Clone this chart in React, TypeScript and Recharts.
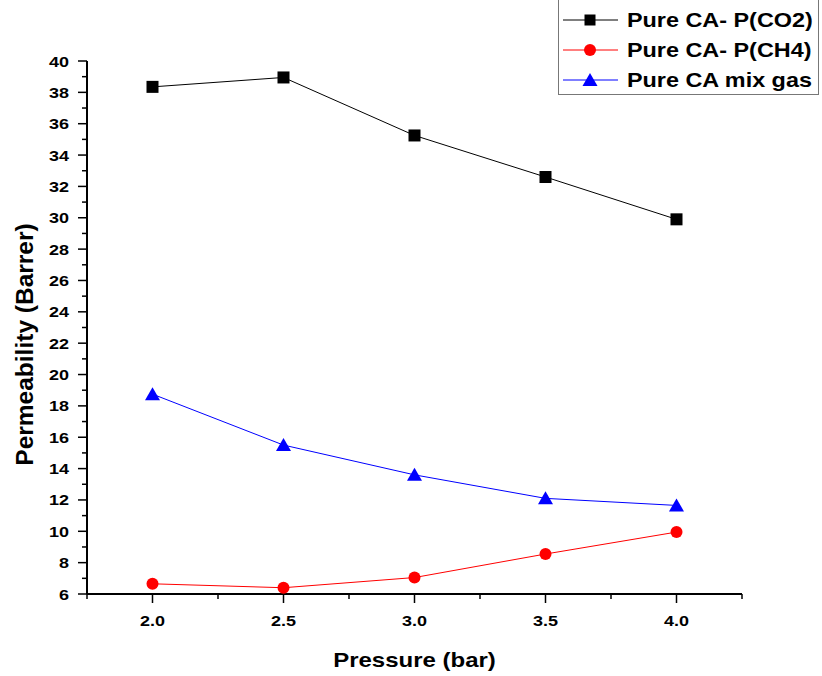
import React from 'react';
import { LineChart, Line, XAxis, YAxis, Legend } from 'recharts';

// pressure in bar
const pressure = [2.0, 2.5, 3.0, 3.5, 4.0];
// permeability in Barrer
const co2 = [38.35, 38.95, 35.25, 32.6, 29.9];
const ch4 = [6.65, 6.4, 7.05, 8.55, 9.95];
const mixGas = [18.75, 15.5, 13.6, 12.1, 11.65];

const seriesNames = ['Pure CA- P(CO2)', 'Pure CA- P(CH4)', 'Pure CA mix gas'];
const xTicks = [1.75, 2.0, 2.25, 2.5, 2.75, 3.0, 3.25, 3.5, 3.75, 4.0, 4.25];
const yTicks = Array.from({ length: 35 }, (_, i) => 6 + i);

const data = pressure.map((p, i) => ({
  p,
  co2: co2[i],
  ch4: ch4[i],
  mix: mixGas[i],
}));

const FONT = '"Liberation Sans", Arial, sans-serif';
const STRETCH = 1.2; // horizontal text in the original is a bit wide
const TICK_SIZE = 9;
const TICK_MARGIN = 4;

// bold text, widened horizontally
const WideText = ({ x, y, size, anchor = 'start', children }: any) => (
  <g transform={`translate(${x}, ${y}) scale(${STRETCH}, 1)`}>
    <text x={0} y={0} textAnchor={anchor} fontFamily={FONT} fontWeight="bold" fontSize={size} fill="#000">
      {children}
    </text>
  </g>
);

const Square = ({ cx, cy, size = 12 }: any) => (
  <rect x={cx - size / 2} y={cy - size / 2} width={size} height={size} fill="#000" />
);
const Circle = ({ cx, cy }: any) => <circle cx={cx} cy={cy} r={6} fill="#ff0000" />;
const Triangle = ({ cx, cy }: any) => (
  <polygon points={`${cx},${cy - 7} ${cx + 7.5},${cy + 6} ${cx - 7.5},${cy + 6}`} fill="#0000ff" />
);

const YTick = (props: any) => {
  const { x, y, payload } = props;
  const axisX = x + TICK_SIZE + TICK_MARGIN;
  const major = payload.value % 2 === 0;
  const len = major ? 9 : 5;
  return (
    <g>
      <line x1={axisX - len} x2={axisX} y1={y} y2={y} stroke="#000" strokeWidth={1.5} />
      {major && (
        <WideText x={axisX - 18} y={y + 5.5} size={15} anchor="end">
          {payload.value}
        </WideText>
      )}
    </g>
  );
};

const XTick = (props: any) => {
  const { x, y, payload } = props;
  const axisY = y - TICK_SIZE - TICK_MARGIN;
  const major = Math.abs(payload.value * 2 - Math.round(payload.value * 2)) < 1e-6;
  const len = major ? 9 : 5;
  return (
    <g>
      <line x1={x} x2={x} y1={axisY} y2={axisY + len} stroke="#000" strokeWidth={1.5} />
      {major && (
        <WideText x={x} y={axisY + 32} size={15} anchor="middle">
          {payload.value.toFixed(1)}
        </WideText>
      )}
    </g>
  );
};

const renderLegend = () => {
  const rows = [
    { name: seriesNames[0], color: '#000', marker: <Square cx={32} cy={0} size={11} /> },
    { name: seriesNames[1], color: '#ff0000', marker: <Circle cx={32} cy={0} /> },
    { name: seriesNames[2], color: '#0000ff', marker: <Triangle cx={32} cy={0} /> },
  ];
  return (
    <svg width={262} height={96} style={{ display: 'block' }}>
      <rect x={0.5} y={-1} width={260} height={95.5} fill="#fff" stroke="#777" strokeWidth={1} />
      {rows.map((r, i) => (
        <g key={r.name} transform={`translate(0, ${20 + i * 30})`}>
          <line x1={5} x2={60} y1={0} y2={0} stroke={r.color} strokeWidth={1} />
          {r.marker}
          <WideText x={69} y={7} size={19.5}>
            {r.name}
          </WideText>
        </g>
      ))}
    </svg>
  );
};

export default function App() {
  return (
    <div style={{ position: 'absolute', left: 0, top: 0, background: '#fff' }}>
      <LineChart width={822} height={676} data={data} margin={{ top: 61, right: 80, bottom: 52, left: 27 }}>
        <XAxis
          dataKey="p"
          type="number"
          domain={[1.75, 4.25]}
          ticks={xTicks}
          interval={0}
          height={30}
          tickSize={TICK_SIZE}
          tickMargin={TICK_MARGIN}
          tickLine={false}
          tick={<XTick />}
          axisLine={{ stroke: '#000', strokeWidth: 2 }}
          label={{
            content: (p: any) => {
              const vb = p.viewBox;
              return (
                <WideText x={vb.x + vb.width / 2} y={vb.y + 73} size={20} anchor="middle">
                  Pressure (bar)
                </WideText>
              );
            },
          }}
        />
        <YAxis
          type="number"
          domain={[6, 40]}
          ticks={yTicks}
          interval={0}
          width={60}
          tickSize={TICK_SIZE}
          tickMargin={TICK_MARGIN}
          tickLine={false}
          tick={<YTick />}
          axisLine={{ stroke: '#000', strokeWidth: 2 }}
          label={{
            content: (p: any) => {
              const vb = p.viewBox;
              const cx = 32.5;
              const cy = vb.y + vb.height / 2 + 17;
              return (
                <text x={cx} y={cy} transform={`rotate(-90, ${cx}, ${cy})`} textAnchor="middle" fontFamily={FONT} fontWeight="bold" fontSize={24.5} fill="#000">
                  Permeability (Barrer)
                </text>
              );
            },
          }}
        />
        <Legend
          content={renderLegend}
          layout="horizontal"
          verticalAlign="middle"
          align="center"
          wrapperStyle={{ position: 'absolute', left: 558, top: 0, width: 262, height: 96 }}
        />
        <Line
          name={seriesNames[0]}
          dataKey="co2"
          stroke="#000"
          strokeWidth={1}
          isAnimationActive={false}
          dot={(p: any) => <Square key={`s-${p.index}`} cx={p.cx} cy={p.cy} />}
        />
        <Line
          name={seriesNames[1]}
          dataKey="ch4"
          stroke="#ff0000"
          strokeWidth={1}
          isAnimationActive={false}
          dot={(p: any) => <Circle key={`c-${p.index}`} cx={p.cx} cy={p.cy} />}
        />
        <Line
          name={seriesNames[2]}
          dataKey="mix"
          stroke="#0000ff"
          strokeWidth={1}
          isAnimationActive={false}
          dot={(p: any) => <Triangle key={`t-${p.index}`} cx={p.cx} cy={p.cy} />}
        />
      </LineChart>
    </div>
  );
}
